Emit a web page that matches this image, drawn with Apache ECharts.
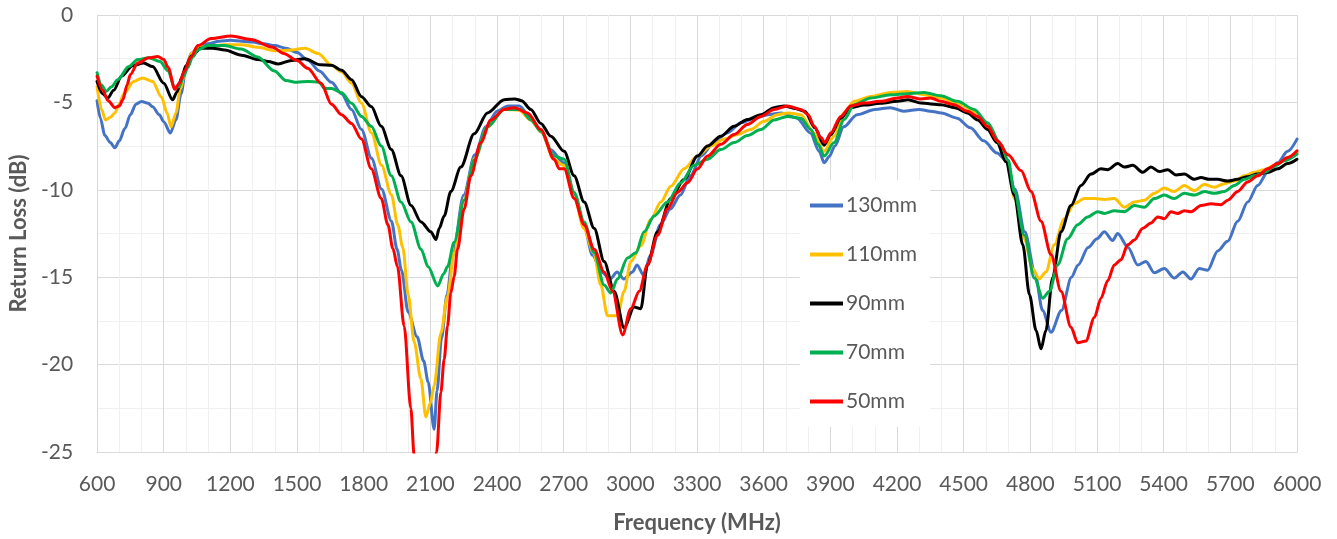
<!DOCTYPE html>
<html>
<head>
<meta charset="utf-8">
<script src="https://cdn.jsdelivr.net/npm/echarts@6/dist/echarts.min.js"></script>
<style>
html,body{margin:0;padding:0;background:#fff;}
#chart{width:1337px;height:539px;}
</style>
</head>
<body>
<div id="chart"></div>
<script>
// Series names (legend order)
const seriesNames = ['130mm', '110mm', '90mm', '70mm', '50mm'];
const seriesColors = ['#4472C4', '#FFC000', '#000000', '#00B050', '#FF0000'];

// [frequency MHz, return loss dB]
const s130 = [[600,-4.9],[615,-5.9],[635,-6.9],[660,-7.3],[680,-7.6],[700,-7.2],[725,-6.5],[750,-5.7],[775,-5.1],[800,-4.95],[830,-5.05],[850,-5.25],[880,-5.7],[900,-6.1],[930,-6.75],[955,-6.0],[978,-4.5],[1000,-3.05],[1023,-2.2],[1060,-1.8],[1100,-1.65],[1150,-1.5],[1200,-1.45],[1250,-1.5],[1300,-1.55],[1350,-1.65],[1400,-1.75],[1450,-1.9],[1500,-2.15],[1550,-2.6],[1600,-3.2],[1655,-3.85],[1700,-4.5],[1745,-5.4],[1790,-6.55],[1835,-8.2],[1880,-9.95],[1925,-11.8],[1950,-13.4],[1970,-14.6],[2000,-17.0],[2040,-18.4],[2070,-19.8],[2090,-21.0],[2117,-23.7],[2130,-21.5],[2150,-18.5],[2175,-16.0],[2200,-13.8],[2250,-10.3],[2300,-8.0],[2350,-6.4],[2400,-5.5],[2450,-5.2],[2500,-5.2],[2550,-5.85],[2600,-6.7],[2640,-7.7],[2700,-8.45],[2750,-10.3],[2790,-12.0],[2830,-13.75],[2870,-14.7],[2910,-15.1],[2940,-14.7],[2970,-15.1],[3010,-14.7],[3030,-14.3],[3060,-14.9],[3090,-13.75],[3135,-12.0],[3180,-11.1],[3225,-10.3],[3270,-9.2],[3320,-8.05],[3375,-7.3],[3435,-6.75],[3500,-6.15],[3560,-5.9],[3620,-5.7],[3680,-5.6],[3750,-5.9],[3810,-6.75],[3850,-7.8],[3872,-8.45],[3895,-8.1],[3920,-7.5],[3960,-6.4],[4020,-5.7],[4100,-5.4],[4170,-5.3],[4230,-5.5],[4300,-5.4],[4350,-5.5],[4400,-5.6],[4470,-5.9],[4530,-6.45],[4590,-7.2],[4650,-7.9],[4690,-8.3],[4730,-9.95],[4775,-12.4],[4820,-14.7],[4855,-16.9],[4893,-18.15],[4940,-16.9],[4985,-15.0],[5015,-14.3],[5060,-13.3],[5100,-12.8],[5133,-12.4],[5170,-12.9],[5193,-12.5],[5240,-13.3],[5283,-14.3],[5320,-14.1],[5358,-14.75],[5403,-14.5],[5448,-15.05],[5486,-14.7],[5523,-15.1],[5560,-14.5],[5598,-14.6],[5643,-13.5],[5688,-12.95],[5733,-11.8],[5778,-10.7],[5823,-9.75],[5868,-9.0],[5913,-8.45],[5958,-7.8],[6000,-7.1]];

const s110 = [[600,-4.1],[620,-5.4],[638,-6.0],[660,-5.85],[680,-5.6],[700,-5.1],[720,-4.5],[765,-3.8],[805,-3.6],[850,-3.8],[890,-4.7],[915,-5.6],[933,-6.4],[955,-5.6],[975,-4.2],[1000,-3.0],[1025,-2.2],[1055,-1.85],[1100,-1.8],[1175,-1.7],[1250,-1.7],[1325,-1.85],[1400,-2.05],[1475,-2.0],[1535,-1.9],[1595,-2.2],[1655,-2.88],[1700,-3.25],[1745,-3.9],[1790,-5.05],[1835,-6.75],[1880,-8.6],[1925,-10.3],[1953,-12.0],[1976,-13.3],[2000,-16.0],[2027,-18.7],[2057,-20.8],[2080,-23.0],[2100,-22.2],[2117,-21.2],[2147,-18.2],[2177,-16.1],[2207,-13.6],[2250,-10.6],[2300,-8.2],[2357,-6.4],[2430,-5.4],[2500,-5.45],[2550,-6.0],[2600,-6.7],[2655,-8.25],[2700,-8.6],[2750,-10.5],[2790,-12.2],[2835,-13.6],[2867,-15.45],[2897,-17.2],[2942,-17.2],[2972,-15.8],[3002,-14.1],[3047,-13.2],[3092,-11.7],[3137,-10.7],[3182,-9.8],[3242,-8.8],[3302,-8.07],[3362,-7.5],[3422,-7.1],[3482,-6.84],[3542,-6.55],[3602,-6.08],[3662,-5.7],[3710,-5.6],[3767,-5.7],[3827,-6.75],[3872,-7.8],[3917,-6.93],[3962,-5.6],[4007,-4.94],[4082,-4.66],[4172,-4.43],[4247,-4.38],[4322,-4.56],[4397,-4.75],[4472,-5.04],[4547,-5.5],[4607,-6.27],[4667,-7.5],[4700,-8.4],[4728,-10.5],[4773,-12.8],[4810,-14.5],[4840,-15.1],[4870,-14.7],[4908,-13.15],[4953,-11.65],[4998,-10.8],[5043,-10.5],[5088,-10.5],[5133,-10.55],[5178,-10.5],[5223,-11.0],[5268,-10.7],[5313,-10.6],[5358,-10.2],[5403,-9.9],[5448,-10.1],[5493,-9.75],[5538,-10.05],[5583,-9.7],[5628,-9.85],[5673,-9.65],[5718,-9.5],[5763,-9.2],[5808,-9.0],[5853,-8.85],[5898,-8.6],[5943,-8.34],[6000,-7.87]];

const s90 = [[600,-3.8],[625,-4.5],[648,-4.75],[675,-4.3],[710,-3.5],[760,-2.9],[810,-2.75],[850,-2.95],[900,-3.9],[940,-4.85],[960,-4.4],[980,-3.6],[1000,-2.9],[1025,-2.35],[1068,-1.9],[1120,-1.9],[1175,-2.0],[1250,-2.3],[1325,-2.55],[1370,-2.66],[1415,-2.8],[1475,-2.6],[1535,-2.5],[1605,-2.85],[1655,-2.88],[1700,-3.16],[1745,-3.7],[1790,-4.67],[1834,-5.24],[1879,-6.37],[1924,-7.69],[1968,-9.2],[2013,-10.9],[2058,-11.84],[2102,-12.4],[2125,-12.85],[2140,-12.2],[2162,-11.5],[2192,-10.1],[2237,-8.7],[2297,-6.8],[2357,-5.6],[2432,-4.85],[2480,-4.8],[2510,-4.9],[2552,-5.4],[2597,-6.2],[2642,-6.93],[2702,-7.8],[2747,-9.2],[2792,-10.7],[2837,-12.2],[2882,-14.1],[2927,-15.8],[2972,-17.9],[3017,-16.7],[3047,-16.8],[3077,-14.3],[3122,-12.4],[3182,-10.5],[3242,-9.4],[3302,-8.07],[3347,-7.5],[3407,-6.93],[3467,-6.36],[3527,-5.98],[3587,-5.7],[3647,-5.3],[3692,-5.2],[3740,-5.35],[3785,-5.5],[3830,-6.45],[3872,-7.45],[3902,-6.85],[3947,-5.9],[3992,-5.3],[4052,-5.15],[4127,-5.05],[4202,-4.94],[4250,-4.85],[4307,-5.04],[4397,-5.13],[4460,-5.3],[4517,-5.6],[4563,-6.0],[4607,-6.55],[4650,-7.3],[4690,-8.4],[4728,-10.3],[4766,-13.15],[4796,-16.0],[4826,-18.05],[4848,-19.1],[4870,-18.05],[4900,-15.05],[4938,-12.4],[4983,-10.9],[5028,-9.75],[5073,-9.1],[5118,-8.8],[5148,-8.85],[5193,-8.5],[5223,-8.7],[5261,-8.6],[5306,-9.0],[5343,-8.7],[5381,-8.96],[5418,-8.85],[5456,-9.15],[5493,-9.1],[5538,-9.4],[5568,-9.3],[5606,-9.4],[5643,-9.4],[5688,-9.5],[5733,-9.4],[5778,-9.25],[5823,-9.1],[5868,-9.0],[5913,-8.8],[5958,-8.5],[6000,-8.25]];

const s70 = [[600,-3.3],[620,-4.0],[640,-4.38],[665,-4.1],[693,-3.7],[743,-2.95],[783,-2.55],[833,-2.45],[883,-2.66],[920,-3.2],[948,-4.15],[970,-4.1],[990,-3.5],[1008,-3.0],[1030,-2.4],[1053,-2.0],[1098,-1.75],[1173,-1.75],[1248,-1.95],[1323,-2.4],[1398,-3.2],[1450,-3.75],[1500,-3.85],[1550,-3.8],[1600,-3.85],[1623,-4.2],[1655,-4.2],[1700,-4.45],[1745,-5.05],[1790,-5.8],[1834,-6.37],[1879,-7.5],[1924,-9.2],[1968,-10.7],[2013,-11.84],[2058,-13.4],[2090,-14.4],[2133,-15.5],[2160,-14.8],[2177,-14.4],[2207,-13.0],[2252,-10.6],[2297,-8.3],[2357,-6.4],[2432,-5.4],[2507,-5.4],[2552,-6.0],[2597,-6.65],[2657,-8.07],[2702,-8.25],[2747,-10.15],[2792,-11.84],[2837,-13.6],[2882,-15.45],[2912,-15.9],[2942,-15.1],[2987,-13.9],[3025,-13.6],[3062,-12.4],[3107,-11.5],[3167,-10.7],[3227,-9.6],[3287,-8.6],[3347,-8.25],[3407,-7.7],[3467,-7.3],[3527,-6.9],[3587,-6.55],[3647,-6.0],[3707,-5.8],[3767,-5.9],[3812,-6.55],[3845,-7.4],[3872,-8.07],[3917,-7.3],[3962,-5.98],[4007,-5.13],[4082,-4.75],[4172,-4.56],[4247,-4.5],[4322,-4.43],[4397,-4.62],[4472,-4.94],[4547,-5.4],[4607,-6.17],[4667,-7.4],[4700,-8.3],[4728,-10.1],[4773,-12.6],[4818,-15.05],[4856,-16.2],[4886,-15.8],[4923,-14.3],[4968,-12.8],[5013,-12.0],[5058,-11.55],[5103,-11.25],[5133,-11.35],[5178,-11.2],[5223,-11.25],[5268,-10.9],[5313,-11.0],[5358,-10.5],[5403,-10.3],[5448,-10.5],[5493,-10.2],[5538,-10.3],[5583,-10.1],[5628,-10.2],[5673,-10.1],[5718,-9.75],[5763,-9.4],[5808,-9.2],[5853,-9.0],[5898,-8.66],[5943,-8.34],[6000,-7.96]];

const s50 = [[600,-3.5],[625,-4.3],[650,-4.9],[680,-5.3],[700,-5.2],[716,-4.85],[735,-4.0],[750,-3.4],[783,-2.75],[833,-2.45],[873,-2.38],[900,-2.55],[920,-3.0],[950,-4.25],[970,-3.9],[993,-3.2],[1023,-2.4],[1053,-1.75],[1113,-1.35],[1203,-1.2],[1293,-1.4],[1390,-1.85],[1440,-2.2],[1500,-2.6],[1548,-3.05],[1608,-3.9],[1655,-5.1],[1700,-5.7],[1745,-6.2],[1790,-7.1],[1834,-8.8],[1879,-10.5],[1909,-12.0],[1931,-13.35],[1952,-14.4],[1982,-17.8],[2012,-22.5],[2027,-25.2],[2050,-27.5],[2080,-28.5],[2110,-27.0],[2128,-25.0],[2147,-21.6],[2162,-19.7],[2177,-17.8],[2192,-15.9],[2207,-14.95],[2222,-13.4],[2252,-11.1],[2282,-9.2],[2327,-7.3],[2372,-6.0],[2432,-5.4],[2477,-5.3],[2537,-5.6],[2597,-6.55],[2657,-8.25],[2680,-8.8],[2702,-8.8],[2747,-10.5],[2792,-12.0],[2837,-13.4],[2882,-14.7],[2920,-15.8],[2965,-18.3],[3002,-16.8],[3040,-15.8],[3077,-14.3],[3122,-12.6],[3167,-11.1],[3212,-10.15],[3257,-9.6],[3302,-8.8],[3347,-8.07],[3407,-7.4],[3467,-6.84],[3527,-6.27],[3587,-5.8],[3647,-5.4],[3707,-5.2],[3767,-5.4],[3800,-5.7],[3827,-6.36],[3857,-7.0],[3875,-7.3],[3902,-6.75],[3947,-5.8],[3992,-5.2],[4052,-5.04],[4127,-4.94],[4202,-4.75],[4247,-4.66],[4307,-4.8],[4352,-4.75],[4397,-4.94],[4457,-5.13],[4517,-5.5],[4562,-5.8],[4607,-6.36],[4652,-7.2],[4700,-8.0],[4758,-8.9],[4803,-10.1],[4848,-11.8],[4893,-13.7],[4938,-15.8],[4983,-17.87],[5013,-18.75],[5050,-18.65],[5088,-17.3],[5118,-16.2],[5148,-15.2],[5178,-14.3],[5208,-14.0],[5238,-13.15],[5268,-12.87],[5306,-12.2],[5343,-11.9],[5373,-11.55],[5403,-11.65],[5433,-11.26],[5463,-11.35],[5493,-11.2],[5523,-11.26],[5568,-10.9],[5613,-10.8],[5658,-10.85],[5688,-10.6],[5733,-10.1],[5778,-9.55],[5823,-9.2],[5868,-8.8],[5913,-8.5],[5958,-8.15],[6000,-7.77]];

const allSeries = [s130, s110, s90, s70, s50];

const FONT = 'Lato, "Open Sans", sans-serif';
const TXT = '#595959';

const chart = echarts.init(document.getElementById('chart'));
chart.setOption({
  animation: false,
  backgroundColor: '#ffffff',
  grid: { left: 96, right: 40, top: 15, bottom: 86, containLabel: false },
  legend: {
    orient: 'vertical',
    left: 800,
    top: 180,
    padding: [15, 13, 15, 10],
    backgroundColor: '#ffffff',
    icon: 'rect',
    itemWidth: 33,
    itemHeight: 4,
    itemGap: 28,
    textStyle: { color: TXT, fontSize: 21, fontFamily: FONT, padding: [0, 0, 0, -2] },
    data: seriesNames
  },
  xAxis: {
    type: 'value',
    min: 600, max: 6000, interval: 300,
    name: 'Frequency (MHz)',
    nameLocation: 'middle',
    nameGap: 60,
    nameTextStyle: { color: TXT, fontSize: 22, fontWeight: 'bold', fontFamily: FONT },
    axisLine: { show: true, onZero: false, lineStyle: { color: '#D9D9D9', width: 1 } },
    axisTick: { show: false },
    axisLabel: { color: TXT, fontSize: 21, fontFamily: FONT, margin: 22, formatter: v => String(v) },
    splitLine: { show: true, lineStyle: { color: '#D9D9D9', width: 1 } },
    minorTick: { show: false, splitNumber: 3 },
    minorSplitLine: { show: true, lineStyle: { color: '#F0F0F0', width: 1 } }
  },
  yAxis: {
    type: 'value',
    min: -25, max: 0, interval: 5,
    name: 'Return Loss (dB)',
    nameLocation: 'middle',
    nameGap: 62,
    nameTextStyle: { color: TXT, fontSize: 22, fontWeight: 'bold', fontFamily: FONT },
    axisLine: { show: true, lineStyle: { color: '#D9D9D9', width: 1 } },
    axisTick: { show: false },
    axisLabel: { color: TXT, fontSize: 21, fontFamily: FONT, margin: 24, formatter: v => String(v) },
    splitLine: { show: true, lineStyle: { color: '#D9D9D9', width: 1 } },
    minorTick: { show: false, splitNumber: 2 },
    minorSplitLine: { show: true, lineStyle: { color: '#F0F0F0', width: 1 } }
  },
  series: seriesNames.map((n, i) => ({
    name: n,
    type: 'line',
    data: allSeries[i],
    showSymbol: false,
    symbol: 'none',
    smooth: 0.3,
    smoothMonotone: 'x',
    clip: true,
    color: seriesColors[i],
    lineStyle: { color: seriesColors[i], width: 3, join: 'round', cap: 'round' }
  }))
});
</script>
</body>
</html>
